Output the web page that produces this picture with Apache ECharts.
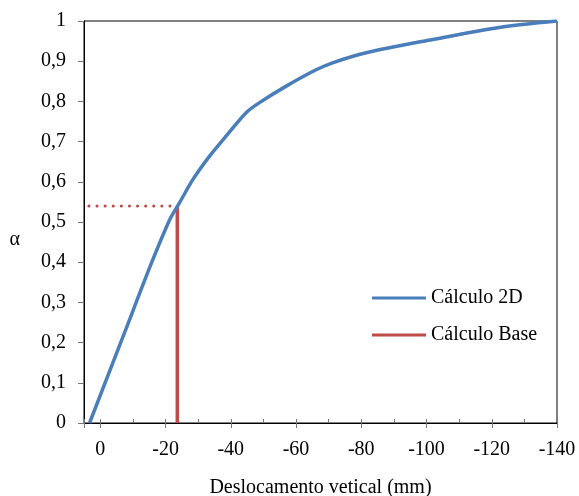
<!DOCTYPE html>
<html>
<head>
<meta charset="utf-8">
<script src="https://cdn.jsdelivr.net/npm/echarts@6/dist/echarts.min.js"></script>
<style>
  html, body { margin: 0; padding: 0; background: #fff; }
  #chart { width: 579px; height: 496px; }
</style>
</head>
<body>
<div id="chart"></div>
<script>
// Cálculo 2D curve (deslocamento mm, alpha)
const disp2D = [3.3, -7.4, -15.3, -21.3, -24.3, -28.4, -33.5, -38.6, -44.7, -48.8, -57, -66, -71.2, -81.5, -101.9, -122.3, -140]
const alpha2D = [0, 0.224, 0.39, 0.506, 0.548, 0.606, 0.664, 0.714, 0.772, 0.797, 0.838, 0.878, 0.896, 0.921, 0.954, 0.984, 1]
// Cálculo Base point
const baseX = -23.6
const baseAlpha = 0.54
const xTicks = [0, -20, -40, -60, -80, -100, -120, -140]

const font = "'Liberation Serif', 'Times New Roman', serif"
const blue = '#4A7EBB'
const red = '#BE4B48'

const curve = disp2D.map((x, i) => [x, alpha2D[i]])

const option = {
  backgroundColor: '#fff',
  animation: false,
  textStyle: { fontFamily: font, color: '#000' },
  grid: {
    left: 84,
    right: 22,
    top: 21,
    bottom: 73,
    outerBoundsMode: 'none',
    containLabel: false,
    show: true,
    borderColor: '#000',
    borderWidth: 1,
    backgroundColor: 'transparent'
  },
  legend: {
    orient: 'vertical',
    left: 367,
    top: 283,
    itemWidth: 54,
    itemHeight: 3,
    itemGap: 17,
    textStyle: { fontFamily: font, fontSize: 20, color: '#000' },
    data: [
      { name: 'Cálculo 2D', icon: 'rect' },
      { name: 'Cálculo Base', icon: 'rect' }
    ]
  },
  xAxis: [{
    type: 'value',
    inverse: true,
    min: -140,
    max: 5,
    interval: 20,
    name: 'Deslocamento vetical (mm)',
    nameLocation: 'middle',
    nameGap: 55,
    nameTextStyle: { fontFamily: font, fontSize: 20, color: '#000' },
    axisLine: { onZero: false, lineStyle: { color: '#000', width: 1 } },
    axisTick: { length: 5, lineStyle: { color: '#777' } },
    axisLabel: {
      margin: 17,
      fontFamily: font,
      fontSize: 20,
      color: '#000',
      formatter: function(v) {
        return xTicks.indexOf(Math.round(v)) >= 0 && Math.abs(v - Math.round(v)) < 1e-6 ? String(Math.round(v)) : ''
      }
    },
    splitLine: { show: false }
  }, {
    // inner ticks every 10
    type: 'value',
    inverse: true,
    min: -140,
    max: 5,
    interval: 10,
    position: 'bottom',
    axisLine: { show: false, onZero: false },
    axisTick: { inside: true, length: 4, lineStyle: { color: '#777' } },
    axisLabel: { show: false },
    splitLine: { show: false }
  }],
  yAxis: {
    type: 'value',
    min: 0,
    max: 1,
    interval: 0.1,
    name: 'α',
    nameLocation: 'middle',
    nameRotate: 0,
    nameGap: 64,
    nameTextStyle: { fontFamily: font, fontSize: 20, color: '#000', verticalAlign: 'top', lineHeight: 36 },
    axisLine: { show: true, onZero: false, lineStyle: { color: '#000', width: 1 } },
    axisTick: { show: true, length: 6, lineStyle: { color: '#777' } },
    axisLabel: {
      margin: 18,
      fontFamily: font,
      fontSize: 20,
      color: '#000',
      formatter: function(v) {
        return String(+v.toFixed(1)).replace('.', ',')
      }
    },
    splitLine: { show: false }
  },
  series: [{
    name: 'Cálculo 2D',
    type: 'line',
    data: curve,
    showSymbol: false,
    smooth: 0.3,
    color: blue,
    lineStyle: { color: blue, width: 3.5 },
    z: 5
  }, {
    name: 'Cálculo Base',
    type: 'line',
    data: [[baseX, 0], [baseX, baseAlpha]],
    showSymbol: false,
    color: red,
    lineStyle: { color: red, width: 3.5 },
    z: 4
  }, {
    name: 'guide',
    type: 'line',
    data: [[3.5, baseAlpha], [baseX, baseAlpha]],
    showSymbol: false,
    color: red,
    lineStyle: { color: red, width: 3, type: [0.1, 8], cap: 'round' },
    z: 4
  }]
}

const myChart = echarts.init(document.getElementById('chart'))
myChart.setOption(option)
</script>
</body>
</html>
